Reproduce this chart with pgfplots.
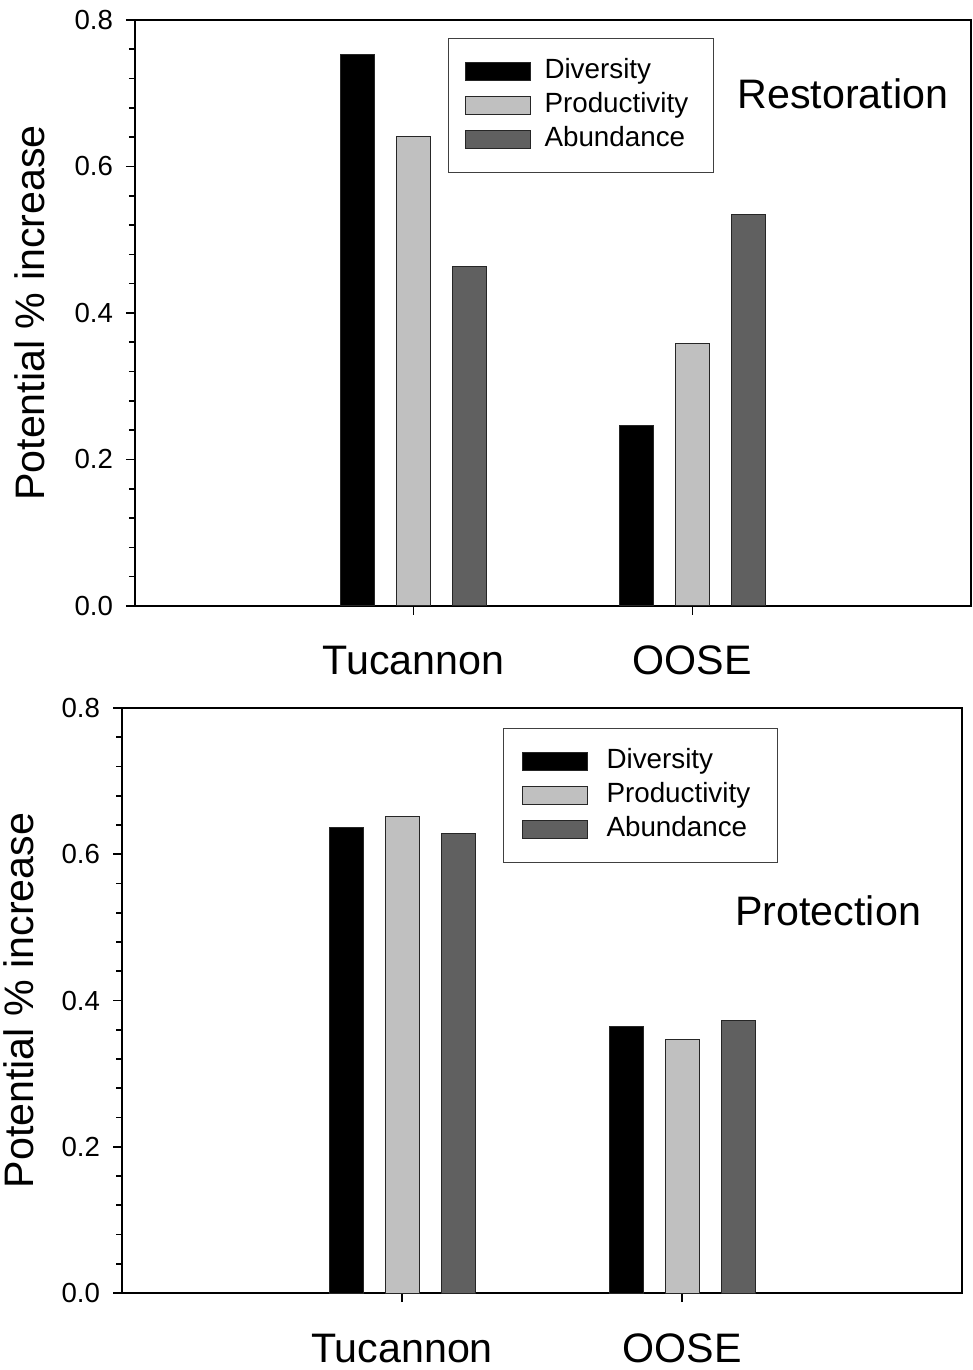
\documentclass[border=0pt]{standalone}
\usepackage{fontspec}
\setmainfont{Liberation Sans}
\usepackage{pgfplots}
\pgfplotsset{compat=1.18}
\definecolor{prodc}{HTML}{C0C0C0}
\definecolor{abunc}{HTML}{606060}
\newcommand{\bigf}{\fontsize{20.6}{24}\selectfont}
\newcommand{\tickf}{\fontsize{13.8}{16}\selectfont}
\newcommand{\legf}{\fontsize{13.9}{16}\selectfont}
\pgfplotsset{
  panel/.style={
    scale only axis, anchor=south west,
    xmin=0, xmax=3, ymin=0, ymax=0.8,
    xtick={1,2}, xticklabels={Tucannon,OOSE},
    ytick={0,0.2,0.4,0.6,0.8}, minor y tick num=4,
    xtick pos=bottom, ytick pos=left,
    tick align=outside, major tick length=4.5pt, minor tick length=3pt,
    axis line style={line width=0.9pt},
    every tick/.style={line width=0.8pt, black},
    /pgf/number format/assume math mode=true,
    yticklabel style={font=\tickf, xshift=-3pt, /pgf/number format/fixed, /pgf/number format/fixed zerofill, /pgf/number format/precision=1},
    xticklabel style={font=\bigf, anchor=base, yshift=-30pt},
    ylabel={Potential \% increase},
    ylabel style={font=\bigf, anchor=center},
    legend cell align=left,
    clip=false,
  },
  mybar/.style={ybar, bar width=17pt, draw=black!85, line width=0.5pt, fill=#1,
    legend image code/.code={\draw[fill=#1, draw=black!85, line width=0.5pt] (0pt,-4.5pt) rectangle (32.5pt,4.5pt);}},
}
\begin{document}
\begin{tikzpicture}
\useasboundingbox (0pt,0pt) rectangle (486.5pt,685pt);
\begin{axis}[panel, at={(67.5pt,382pt)}, width=418pt, height=293pt,
  ylabel style={at={(rel axis cs:-0.1255,0.5)}},
  legend style={at={(rel axis cs:0.3744,0.9693)}, anchor=north west, draw=black!75, line width=0.5pt,
    font=\legf, inner xsep=8pt, inner ysep=8pt, row sep=0pt,
    /tikz/every odd column/.append style={column sep=5.5pt},
    nodes={inner sep=1.5pt, text height=10.5pt, text depth=3.5pt}},
]
\addplot[mybar=black, bar shift=-28pt] coordinates {(1,0.753) (2,0.246)};
\addplot[mybar=prodc, bar shift=0pt] coordinates {(1,0.641) (2,0.358)};
\addplot[mybar=abunc, bar shift=28pt] coordinates {(1,0.463) (2,0.535)};
\legend{Diversity,Productivity\hspace{3pt}\mbox{},Abundance}
\node[anchor=base west, font=\bigf, inner sep=0pt] at (rel axis cs:0.7201,0.8498) {Restoration};
\end{axis}
\begin{axis}[panel, at={(61pt,38.5pt)}, width=420pt, height=292.5pt,
  ylabel style={at={(rel axis cs:-0.1232,0.5)}},
  legend style={at={(rel axis cs:0.4536,0.9658)}, anchor=north west, draw=black!75, line width=0.5pt,
    font=\legf, inner xsep=9pt, inner ysep=8pt, row sep=0pt,
    /tikz/every odd column/.append style={column sep=8pt},
    nodes={inner sep=1.5pt, text height=10.5pt, text depth=3.5pt}},
]
\addplot[mybar=black, bar shift=-28pt] coordinates {(1,0.637) (2,0.364)};
\addplot[mybar=prodc, bar shift=0pt] coordinates {(1,0.652) (2,0.347)};
\addplot[mybar=abunc, bar shift=28pt] coordinates {(1,0.629) (2,0.372)};
\legend{Diversity,Productivity\hspace{3pt}\mbox{},Abundance}
\node[anchor=base west, font=\bigf, inner sep=0pt] at (rel axis cs:0.7298,0.629) {Protection};
\end{axis}
\end{tikzpicture}
\end{document}
